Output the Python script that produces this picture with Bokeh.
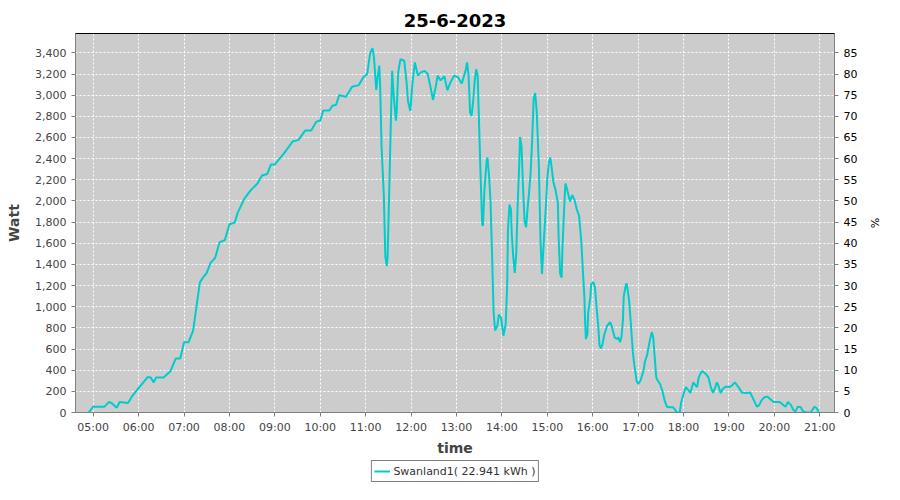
import pandas as pd
from bokeh.plotting import figure
from bokeh.layouts import column
from bokeh.models import (Range1d, LinearAxis, FixedTicker, DatetimeTickFormatter,
                          NumeralTickFormatter, Legend, LegendItem, ColumnDataSource)
from bokeh.embed import file_html
from bokeh.resources import INLINE

day = "2023-06-25"
chart_title = "25-6-2023"
series_name = "Swanland1( 22.941 kWh )"

times = [
    "04:54", "05:00", "05:15", "05:21", "05:25", "05:31", "05:35", "05:46", "05:52", "06:01",
    "06:12", "06:16", "06:20", "06:23", "06:33", "06:42", "06:49", "06:55", "07:00", "07:06",
    "07:12", "07:17", "07:21", "07:25", "07:30", "07:35", "07:41", "07:47", "07:54", "08:00",
    "08:07", "08:11", "08:20", "08:28", "08:37", "08:43", "08:50", "08:55", "09:00", "09:11",
    "09:24", "09:31", "09:40", "09:48", "09:55", "10:00", "10:04", "10:12", "10:16", "10:21",
    "10:25", "10:34", "10:42", "10:51", "10:57", "11:02", "11:06", "11:09", "11:11", "11:14",
    "11:16", "11:18", "11:19", "11:21", "11:24", "11:26", "11:28", "11:29", "11:31", "11:33",
    "11:35", "11:37", "11:40", "11:41", "11:43", "11:46", "11:51", "11:54", "11:56", "11:59",
    "12:02", "12:05", "12:09", "12:13", "12:18", "12:22", "12:26", "12:29", "12:33", "12:35",
    "12:39", "12:44", "12:48", "12:52", "12:57", "13:02", "13:07", "13:12", "13:14", "13:16",
    "13:18", "13:20", "13:22", "13:24", "13:26", "13:28", "13:30", "13:32", "13:34", "13:35",
    "13:37", "13:40", "13:41", "13:43", "13:45", "13:47", "13:49", "13:51", "13:54", "13:56",
    "13:59", "14:02", "14:05", "14:07", "14:08", "14:10", "14:12", "14:13", "14:15", "14:17",
    "14:19", "14:21", "14:23", "14:24", "14:26", "14:28", "14:30", "14:32", "14:34", "14:36",
    "14:38", "14:40", "14:42", "14:44", "14:46", "14:49", "14:51", "14:53", "14:54", "14:58",
    "15:00", "15:02", "15:04", "15:06", "15:08", "15:11", "15:14", "15:15", "15:17", "15:19",
    "15:20", "15:23", "15:24", "15:26", "15:30", "15:33", "15:36", "15:39", "15:42", "15:45",
    "15:47", "15:49", "15:50", "15:51", "15:53", "15:54", "15:57", "15:58", "16:01", "16:03",
    "16:05", "16:07", "16:09", "16:11", "16:13", "16:15", "16:19", "16:23", "16:25", "16:29",
    "16:32", "16:34", "16:36", "16:38", "16:40", "16:41", "16:44", "16:45", "16:48", "16:50",
    "16:53", "16:55", "16:58", "17:00", "17:03", "17:07", "17:09", "17:12", "17:15", "17:18",
    "17:20", "17:22", "17:24", "17:26", "17:29", "17:32", "17:35", "17:38", "17:42", "17:46",
    "17:49", "17:51", "17:55", "17:57", "18:00", "18:03", "18:06", "18:09", "18:13", "18:16",
    "18:18", "18:20", "18:24", "18:26", "18:30", "18:33", "18:36", "18:39", "18:42", "18:44",
    "18:46", "18:49", "18:52", "18:56", "19:00", "19:04", "19:08", "19:11", "19:14", "19:17",
    "19:22", "19:28", "19:31", "19:34", "19:37", "19:40", "19:43", "19:47", "19:51", "19:54",
    "19:59", "20:03", "20:07", "20:12", "20:15", "20:18", "20:22", "20:25", "20:28", "20:31",
    "20:35", "20:38", "20:42", "20:48", "20:53", "20:56", "20:59",
]

watts = [
    0, 55, 55, 100, 85, 45, 100, 90, 160, 240,
    335, 330, 285, 330, 330, 390, 510, 510, 665, 665,
    775, 1030, 1230, 1275, 1320, 1415, 1460, 1610, 1630, 1780,
    1795, 1890, 2025, 2100, 2165, 2240, 2255, 2345, 2345, 2440,
    2565, 2575, 2665, 2665, 2750, 2760, 2855, 2855, 2900, 2910,
    3000, 2985, 3080, 3095, 3170, 3200, 3400, 3445, 3355, 3050,
    3185, 3280, 3125, 2515, 2055, 1475, 1385, 1475, 2055, 2665,
    3230, 3000, 2760, 2850, 3215, 3340, 3325, 3125, 2940, 2850,
    3125, 3310, 3185, 3215, 3230, 3200, 3065, 2955, 3095, 3185,
    3140, 3180, 3045, 3120, 3185, 3170, 3110, 3230, 3310, 3185,
    2835, 2805, 2940, 3125, 3245, 3185, 2695, 2210, 1780, 1765,
    2115, 2390, 2410, 2240, 1995, 1505, 955, 775, 820, 925,
    895, 725, 835, 1200, 1720, 1965, 1920, 1690, 1475, 1320,
    1505, 1995, 2360, 2605, 2515, 2115, 1810, 1750, 1935, 2085,
    2270, 2575, 2970, 3020, 2850, 2300, 1630, 1310, 1445, 1935,
    2210, 2360, 2410, 2300, 2180, 2100, 1980, 1645, 1310, 1275,
    1550, 2040, 2165, 2115, 1995, 2055, 2010, 1920, 1860, 1610,
    1340, 1095, 850, 695, 740, 940, 1095, 1215, 1230, 1185,
    1000, 850, 635, 605, 650, 725, 820, 855, 820, 710,
    695, 710, 665, 710, 880, 1095, 1215, 1215, 1065, 880,
    575, 450, 300, 270, 300, 390, 480, 545, 665, 760,
    710, 515, 330, 300, 270, 205, 115, 55, 50, 50,
    25, 0, 0, 100, 175, 240, 215, 185, 285, 255,
    240, 330, 390, 385, 360, 330, 240, 185, 240, 285,
    255, 185, 225, 245, 240, 255, 285, 255, 225, 190,
    185, 190, 145, 100, 55, 70, 115, 145, 150, 130,
    100, 100, 100, 70, 55, 100, 70, 25, 10, 55,
    50, 10, 0, 0, 55, 40, 0,
]

hour_labels = ["05:00", "06:00", "07:00", "08:00", "09:00", "10:00", "11:00", "12:00",
               "13:00", "14:00", "15:00", "16:00", "17:00", "18:00", "19:00", "20:00", "21:00"]
watt_ticks = list(range(0, 3401, 200))
pct_ticks = list(range(0, 86, 5))
x_start, x_end = "04:36:36", "21:19:30"
watt_max = 3583
watt_per_pct = 40

def ts(t):
    return pd.Timestamp(f"{day} {t}")

def ms(t):
    return ts(t).value // 10**6

src = ColumnDataSource(data=dict(t=[ts(t) for t in times], w=watts))

FONT = "DejaVu Sans"
LINE_COLOR = "#00cccc"
p = figure(width=884, height=458, x_axis_type="datetime", output_backend="svg",
           toolbar_location=None,
           x_range=Range1d(ms(x_start), ms(x_end)), y_range=Range1d(0, watt_max),
           min_border_left=75, min_border_right=45, min_border_top=33, min_border_bottom=10)

p.title.text = chart_title
p.title.align = "center"
p.title.vertical_align = "top"
p.title.text_font = FONT
p.title.text_font_size = "18px"
p.title.text_font_style = "bold"
p.title.text_color = "black"
p.title.standoff = 10

p.background_fill_color = "#cccccc"
p.border_fill_color = "white"
p.outline_line_color = "black"
p.outline_line_width = 1

hour_ticker = FixedTicker(ticks=[ms(h) for h in hour_labels])
p.xaxis.ticker = hour_ticker
p.xaxis.formatter = DatetimeTickFormatter(hours="%H:%M", minutes="%H:%M", hourmin="%H:%M",
                                          days="%H:%M")
p.xaxis.axis_label = "time"
p.yaxis.ticker = FixedTicker(ticks=watt_ticks)
p.yaxis.formatter = NumeralTickFormatter(format="0,0")
p.yaxis.axis_label = "Watt"

p.extra_y_ranges = {"pct": Range1d(0, watt_max / watt_per_pct)}
rax = LinearAxis(y_range_name="pct", ticker=FixedTicker(ticks=pct_ticks), axis_label="%")
p.add_layout(rax, "right")

for ax in [p.xaxis[0], p.yaxis[0], rax]:
    ax.axis_line_color = "#808080"
    ax.major_tick_line_color = "#808080"
    ax.major_tick_in = 0
    ax.major_tick_out = 4
    ax.minor_tick_line_color = None
    ax.major_label_text_font = FONT
    ax.major_label_text_font_size = "11px"
    ax.major_label_text_color = "#444444"
    ax.axis_label_text_font = FONT
    ax.axis_label_text_color = "#444444"
    ax.axis_label_text_font_size = "14px"
    ax.axis_label_text_font_style = "bold"
    ax.axis_label_standoff = 3
p.xaxis[0].major_label_standoff = 4
p.yaxis[0].axis_label_standoff = 10
rax.axis_label_text_font_size = "11px"
rax.axis_label_text_font_style = "normal"
rax.axis_label_text_color = "black"
rax.major_label_text_color = "black"
rax.axis_label_standoff = 8

p.xgrid.ticker = hour_ticker
p.ygrid.ticker = FixedTicker(ticks=watt_ticks)
for g in [p.xgrid[0], p.ygrid[0]]:
    g.grid_line_color = "white"
    g.grid_line_dash = "2 2"
    g.grid_line_width = 1

r = p.line("t", "w", source=src, line_color=LINE_COLOR, line_width=2)

# legend strip below the chart (its line shares the series source, out of view)
lg = figure(width=884, height=26, output_backend="svg", toolbar_location=None,
            x_range=Range1d(0, 1), y_range=Range1d(0, 1),
            x_axis_location=None, y_axis_location=None,
            min_border_left=0, min_border_right=0, min_border_top=0, min_border_bottom=0)
lg.outline_line_color = None
lg.xgrid.visible = False
lg.ygrid.visible = False
lg.background_fill_color = "white"
swatch = lg.line("t", "w", source=src, line_color=LINE_COLOR, line_width=2)
legend = Legend(items=[LegendItem(label=series_name, renderers=[swatch])], location="center",
                orientation="horizontal", border_line_color="black", border_line_width=1,
                label_text_font=FONT, label_text_font_size="11px", label_text_color="#333333",
                glyph_width=16, glyph_height=16, label_height=16, label_standoff=4,
                padding=2, margin=0, background_fill_color="white")
lg.add_layout(legend, "center")

layout = column(p, lg, spacing=0)
open("out.html", "w").write(file_html(layout, INLINE))
